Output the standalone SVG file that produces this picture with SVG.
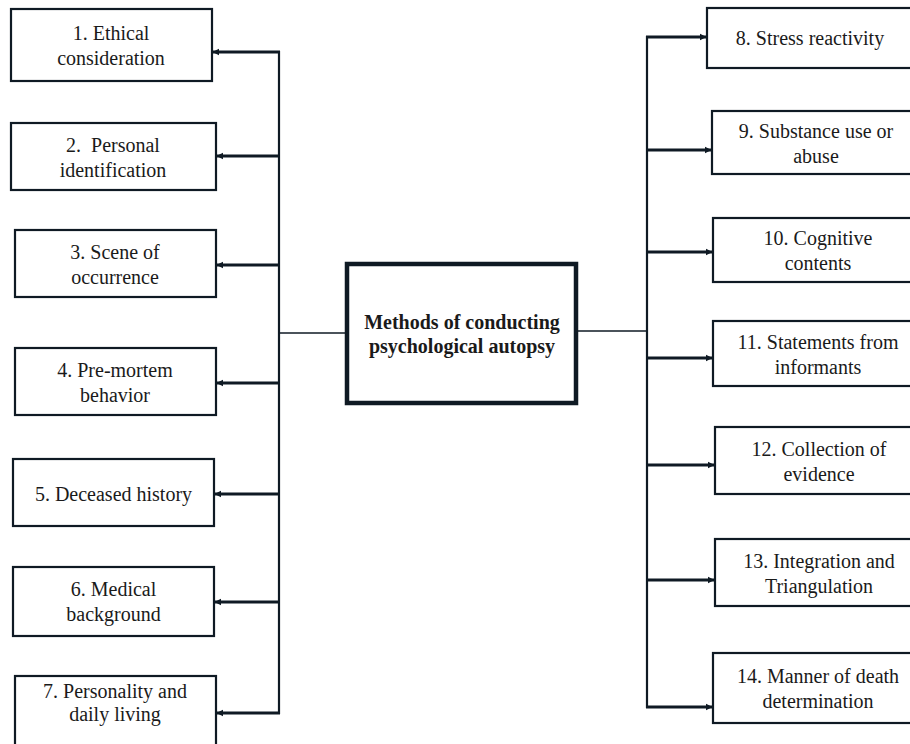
<svg xmlns="http://www.w3.org/2000/svg" width="910" height="744" viewBox="0 0 910 744">
<defs>
<style>
.box{fill:#fff;stroke:#0f1a24;stroke-width:2.2}
.main{fill:#fff;stroke:#0f1a24;stroke-width:4.5}
.bus{stroke:#0f1a24;stroke-width:2.2;fill:none}
.br{stroke:#0f1a24;stroke-width:3.2;fill:none}
.thin{stroke:#0f1a24;stroke-width:1.6;fill:none}
</style>
<marker id="ah" viewBox="0 0 6 6" refX="5.5" refY="3" markerWidth="2.2" markerHeight="2.2" orient="auto" markerUnits="strokeWidth">
<path d="M0,0 L6,3 L0,6 z" fill="#0f1a24"/>
</marker>
</defs>
<rect width="910" height="744" fill="#fff"/>
<g id="connectors">
<line class="bus" x1="279" y1="51" x2="279" y2="714"/>
<line class="br" x1="280" y1="52" x2="213" y2="52" marker-end="url(#ah)"/>
<line class="br" x1="280" y1="156" x2="217" y2="156" marker-end="url(#ah)"/>
<line class="br" x1="280" y1="265" x2="217" y2="265" marker-end="url(#ah)"/>
<line class="br" x1="280" y1="383" x2="217" y2="383" marker-end="url(#ah)"/>
<line class="br" x1="280" y1="494" x2="215" y2="494" marker-end="url(#ah)"/>
<line class="br" x1="280" y1="602" x2="215" y2="602" marker-end="url(#ah)"/>
<line class="br" x1="280" y1="713" x2="217" y2="713" marker-end="url(#ah)"/>
<line class="thin" x1="279" y1="333" x2="347" y2="333"/>
<line class="thin" x1="576" y1="331" x2="647" y2="331"/>
<line class="bus" x1="647" y1="36" x2="647" y2="708"/>
<line class="br" x1="646" y1="37" x2="706" y2="37" marker-end="url(#ah)"/>
<line class="br" x1="646" y1="150" x2="711" y2="150" marker-end="url(#ah)"/>
<line class="br" x1="646" y1="252" x2="712" y2="252" marker-end="url(#ah)"/>
<line class="br" x1="646" y1="358" x2="712" y2="358" marker-end="url(#ah)"/>
<line class="br" x1="646" y1="465" x2="714" y2="465" marker-end="url(#ah)"/>
<line class="br" x1="646" y1="580" x2="714" y2="580" marker-end="url(#ah)"/>
<line class="br" x1="646" y1="707" x2="712" y2="707" marker-end="url(#ah)"/>
</g>
<g font-family="Liberation Serif" font-size="20" fill="#1a1a1a" text-anchor="middle">
<g id="center">
<rect class="main" x="347" y="264" width="229" height="139"/>
<text font-weight="bold" x="462" y="329">Methods of conducting</text>
<text font-weight="bold" x="462" y="353">psychological autopsy</text>
</g>
<g id="n1"><rect class="box" x="11" y="9" width="201" height="72"/>
<text x="111" y="40">1. Ethical</text><text x="111" y="65">consideration</text></g>
<g id="n2"><rect class="box" x="11" y="123" width="205" height="67"/>
<text x="113" y="152" xml:space="preserve">2.  Personal</text><text x="113" y="177">identification</text></g>
<g id="n3"><rect class="box" x="15" y="230" width="201" height="67"/>
<text x="115" y="259">3. Scene of</text><text x="115" y="284">occurrence</text></g>
<g id="n4"><rect class="box" x="15" y="348" width="201" height="67"/>
<text x="115" y="377">4. Pre-mortem</text><text x="115" y="402">behavior</text></g>
<g id="n5"><rect class="box" x="13" y="459" width="201" height="67"/>
<text x="113.5" y="501">5. Deceased history</text></g>
<g id="n6"><rect class="box" x="13" y="567" width="201" height="69"/>
<text x="113.5" y="596">6. Medical</text><text x="113.5" y="621">background</text></g>
<g id="n7"><rect class="box" x="15" y="676" width="201" height="80"/>
<text x="115" y="698">7. Personality and</text><text x="115" y="721">daily living</text></g>
<g id="n8"><rect class="box" x="707" y="8" width="210" height="60"/>
<text x="810" y="45">8. Stress reactivity</text></g>
<g id="n9"><rect class="box" x="712" y="111" width="210" height="63"/>
<text x="816" y="138">9. Substance use or</text><text x="816" y="163">abuse</text></g>
<g id="n10"><rect class="box" x="713" y="218" width="210" height="64"/>
<text x="818" y="245">10. Cognitive</text><text x="818" y="270">contents</text></g>
<g id="n11"><rect class="box" x="713" y="321" width="210" height="65"/>
<text x="818" y="349">11. Statements from</text><text x="818" y="374">informants</text></g>
<g id="n12"><rect class="box" x="715" y="427" width="210" height="67"/>
<text x="819" y="456">12. Collection of</text><text x="819" y="481">evidence</text></g>
<g id="n13"><rect class="box" x="715" y="539" width="210" height="67"/>
<text x="819" y="568">13. Integration and</text><text x="819" y="593">Triangulation</text></g>
<g id="n14"><rect class="box" x="713" y="653" width="210" height="70"/>
<text x="818" y="683">14. Manner of death</text><text x="818" y="708">determination</text></g>
</g>
</svg>
